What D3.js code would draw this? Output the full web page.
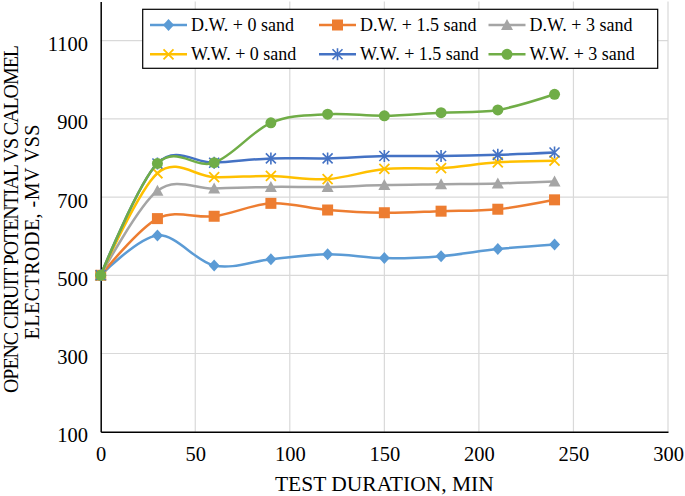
<!DOCTYPE html>
<html><head><meta charset="utf-8">
<script src="https://cdn.jsdelivr.net/npm/d3@7"></script>
<style>body{margin:0;background:#fff}svg{display:block}text{font-family:'Liberation Serif','Times New Roman',serif}</style>
</head><body>
<svg id="c" width="685" height="496"></svg>
<script>
const times = [0, 30, 60, 90, 120, 150, 180, 210, 240];
const seriesNames = ["D.W. + 0 sand","D.W. + 1.5 sand","D.W. + 3 sand","W.W. + 0 sand","W.W. + 1.5 sand","W.W. + 3 sand"];
const dw0  = [500, 602, 525, 541, 554, 544, 549, 567, 579];
const dw15 = [500, 645, 651, 684, 667, 660, 664, 669, 693];
const dw3  = [500, 716, 722, 726, 726, 731, 733, 735, 740];
const ww0  = [500, 761, 751, 754, 746, 772, 774, 789, 793];
const ww15 = [500, 786, 788, 799, 799, 805, 805, 808, 814];
const ww3  = [500, 786, 788, 890, 912, 908, 916, 923, 963];
const xTicks = [0, 50, 100, 150, 200, 250, 300];
const yTicks = [100, 300, 500, 700, 900, 1100];
const colors = ["#5B9BD5","#ED7D31","#A5A5A5","#FFC000","#4472C4","#70AD47"];
const markers = ["diamond","square","triangle","x","star","circle"];
const allSeries = [dw0, dw15, dw3, ww0, ww15, ww3];

const svg = d3.select("#c");
const x = d3.scaleLinear().domain([0, 300]).range([100.7, 668]);
const y = d3.scaleLinear().domain([100, 1200]).range([431.7, 1.6]);
const font = "'Liberation Serif','Times New Roman',serif";

// gridlines
svg.append("g").selectAll("line.h").data(yTicks.filter(d => d > 100)).join("line")
  .attr("x1", x(0)).attr("x2", x(300)).attr("y1", d => y(d)).attr("y2", d => y(d))
  .attr("stroke", "#d9d9d9").attr("stroke-width", 1.2);
svg.append("g").selectAll("line.v").data(xTicks.filter(d => d > 0)).join("line")
  .attr("x1", d => x(d)).attr("x2", d => x(d)).attr("y1", y(1200)).attr("y2", y(100))
  .attr("stroke", "#d9d9d9").attr("stroke-width", 1.2);

// axes
const xAxis = svg.append("g").attr("transform", `translate(0,${y(100)})`)
  .call(d3.axisBottom(x).tickValues(xTicks).tickFormat(d3.format("d")).tickSize(0).tickPadding(0));
xAxis.attr("font-family", null);
xAxis.select(".domain").attr("stroke", "#000").attr("stroke-width", 1.5);
xAxis.selectAll("text").style("font-family", font).style("font-size", "20.5px").attr("fill", "#000")
  .attr("dy", null).attr("y", 29.3);
const yAxis = svg.append("g").attr("transform", `translate(${x(0)},0)`)
  .call(d3.axisLeft(y).tickValues(yTicks).tickFormat(d3.format("d")).tickSize(0).tickPadding(0));
yAxis.attr("font-family", null);
yAxis.select(".domain").attr("stroke", "#000").attr("stroke-width", 1.5);
yAxis.selectAll("text").style("font-family", font).style("font-size", "20.5px").attr("fill", "#000")
  .attr("dy", null).attr("x", -12.7).attr("y", 10);

// titles
svg.append("text").attr("x", (x(0) + x(300)) / 2).attr("y", 491).attr("text-anchor", "middle")
  .style("font-family", font).style("font-size", "21.5px").text("TEST DURATION, MIN");
svg.append("text").attr("transform", "translate(18,219) rotate(-90)").attr("text-anchor", "middle")
  .style("font-family", font).style("font-size", "20px").attr("textLength", 348)
  .text("OPENC CIRUIT POTENTIAL VS CALOMEL");
svg.append("text").attr("transform", "translate(39,232) rotate(-90)").attr("text-anchor", "middle")
  .style("font-family", font).style("font-size", "20px").attr("textLength", 215)
  .text("ELECTRODE, -MV VSS");

function drawMarker(g, type, cx, cy, color) {
  if (type === "diamond") {
    g.append("path").attr("d", `M${cx},${cy-6}L${cx+5.5},${cy}L${cx},${cy+6}L${cx-5.5},${cy}Z`).attr("fill", color);
  } else if (type === "square") {
    g.append("rect").attr("x", cx-5.5).attr("y", cy-5.5).attr("width", 11).attr("height", 11).attr("fill", color);
  } else if (type === "triangle") {
    g.append("path").attr("d", `M${cx},${cy-6}L${cx+6},${cy+5}L${cx-6},${cy+5}Z`).attr("fill", color);
  } else if (type === "x") {
    g.append("path").attr("d", `M${cx-5},${cy-5}L${cx+5},${cy+5}M${cx+5},${cy-5}L${cx-5},${cy+5}`)
      .attr("stroke", color).attr("stroke-width", 1.8).attr("fill", "none");
  } else if (type === "star") {
    g.append("path").attr("d", `M${cx-5},${cy-5}L${cx+5},${cy+5}M${cx+5},${cy-5}L${cx-5},${cy+5}M${cx},${cy-6}L${cx},${cy+6}`)
      .attr("stroke", color).attr("stroke-width", 1.6).attr("fill", "none");
  } else if (type === "circle") {
    g.append("circle").attr("cx", cx).attr("cy", cy).attr("r", 5.5).attr("fill", color);
  }
}

const line = d3.line().x((d, i) => x(times[i])).y(d => y(d)).curve(d3.curveCardinal.tension(0));
allSeries.forEach((vals, si) => {
  const g = svg.append("g");
  g.append("path").attr("d", line(vals)).attr("fill", "none").attr("stroke", colors[si]).attr("stroke-width", 2.5);
  vals.forEach((v, i) => drawMarker(g, markers[si], x(times[i]), y(v), colors[si]));
});

// legend
const lg = svg.append("g");
lg.append("rect").attr("x", 142.7).attr("y", 9.3).attr("width", 515).attr("height", 59)
  .attr("fill", "#fff").attr("stroke", "#000").attr("stroke-width", 1.2);
const colX = [150, 319, 488.5];
const rowY = [25, 54.3];
seriesNames.forEach((name, i) => {
  const cx = colX[i % 3], cy = rowY[Math.floor(i / 3)];
  lg.append("line").attr("x1", cx).attr("x2", cx + 37).attr("y1", cy).attr("y2", cy)
    .attr("stroke", colors[i]).attr("stroke-width", 2.5);
  drawMarker(lg, markers[i], cx + 18.5, cy, colors[i]);
  lg.append("text").attr("x", cx + 41).attr("y", cy + 6).style("font-family", font)
    .style("font-size", "18px").text(name);
});
</script>
</body></html>
